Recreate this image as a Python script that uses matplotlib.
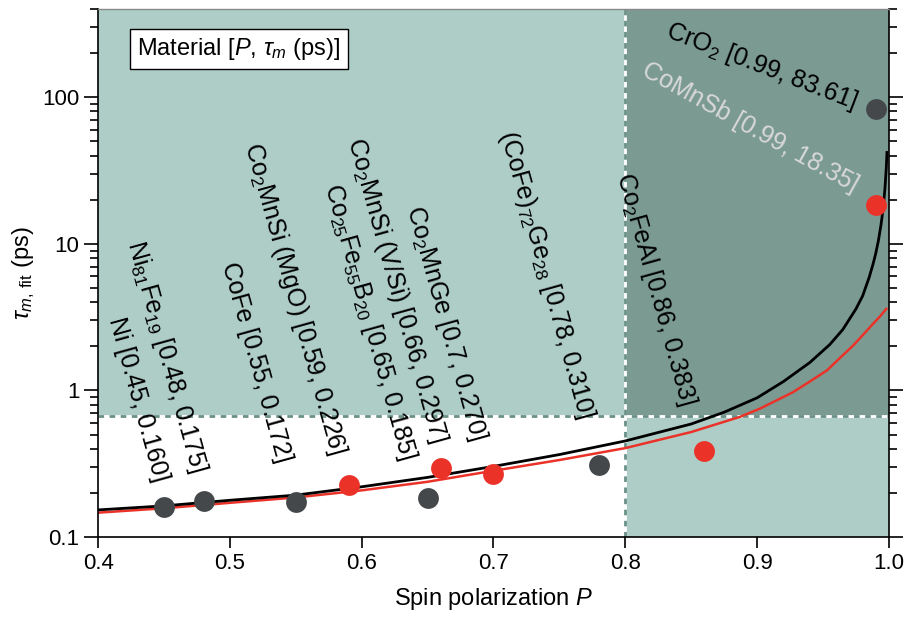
import matplotlib
matplotlib.use("Agg")
import matplotlib.pyplot as plt
import numpy as np

plt.rcParams['font.family'] = ['Liberation Sans', 'DejaVu Sans']
plt.rcParams['mathtext.fontset'] = 'custom'
plt.rcParams['mathtext.rm'] = 'Liberation Sans'
plt.rcParams['mathtext.it'] = 'Liberation Sans:italic'
plt.rcParams['font.size'] = 16

# fitted curves
black_P = [0.40, 0.45, 0.50, 0.55, 0.60, 0.65, 0.70, 0.75, 0.80, 0.85, 0.875, 0.90,
           0.92, 0.94, 0.955, 0.965, 0.975, 0.980, 0.985, 0.988, 0.990, 0.992,
           0.994, 0.995, 0.996, 0.997, 0.998, 0.9985]
black_tau = [0.153, 0.163, 0.178, 0.193, 0.220, 0.255, 0.303, 0.365, 0.452, 0.59, 0.71, 0.89,
             1.15, 1.55, 2.05, 2.6, 3.6, 4.4, 5.9, 7.3, 8.6, 10.5,
             13.5, 15.8, 19.0, 24.0, 33.0, 42.0]
red_P = [0.40, 0.45, 0.50, 0.55, 0.60, 0.65, 0.70, 0.75, 0.80, 0.85, 0.887, 0.902,
         0.927, 0.94, 0.953, 0.963, 0.973, 0.981, 0.988, 0.993, 0.998]
red_tau = [0.1465, 0.157, 0.171, 0.186, 0.208, 0.238, 0.283, 0.335, 0.404, 0.52, 0.66, 0.75,
           0.97, 1.15, 1.37, 1.67, 2.03, 2.43, 2.85, 3.18, 3.6]

# materials
gray_P = [0.45, 0.48, 0.55, 0.65, 0.78, 0.99]
gray_tau = [0.160, 0.175, 0.172, 0.185, 0.310, 83.61]
red_pts_P = [0.59, 0.66, 0.70, 0.86, 0.99]
red_pts_tau = [0.226, 0.297, 0.270, 0.383, 18.35]

labels = ['Ni [0.45, 0.160]',
          'Ni$_{81}$Fe$_{19}$ [0.48, 0.175]',
          'CoFe [0.55, 0.172]',
          'Co$_2$MnSi (MgO) [0.59, 0.226]',
          'Co$_{25}$Fe$_{55}$B$_{20}$ [0.65, 0.185]',
          'Co$_2$MnSi (V/Si) [0.66, 0.297]',
          'Co$_2$MnGe [0.7, 0.270]',
          '(CoFe)$_{72}$Ge$_{28}$ [0.78, 0.310]',
          'Co$_2$FeAl [0.86, 0.383]']
# where each label ends
label_x = [0.4478, 0.4759, 0.5411, 0.582, 0.6352, 0.6582, 0.6886, 0.770, 0.8476]
label_y = [0.240, 0.276, 0.323, 0.366, 0.338, 0.442, 0.453, 0.645, 0.803]

light = '#adcdc6'
dark = '#7b9b92'
red = '#ea3229'
gray = '#45484b'
y_cut = 0.665

fig = plt.figure(figsize=(9.08, 6.19), dpi=100)
ax = fig.add_axes([0.108, 0.1325, 0.871, 0.853])
ax.set_yscale('log')
ax.set_xlim(0.4, 1.0)
ax.set_ylim(0.1, 400)

ax.fill_between([0.4, 1.0], y_cut, 400, color=light, lw=0, zorder=0)
ax.fill_between([0.8, 1.0], 0.1, y_cut, color=light, lw=0, zorder=0)
ax.fill_between([0.8, 1.0], y_cut, 400, color=dark, lw=0, zorder=0)
ax.axhline(y_cut, color='white', lw=2, zorder=1)
ax.axhline(y_cut, color='#6a9087', lw=2, dashes=(2, 2), zorder=1)
ax.axvline(0.8, color='white', lw=2, zorder=1)
ax.axvline(0.8, color='#6a9087', lw=2, dashes=(2, 2), zorder=1)

ax.plot(black_P, black_tau, color='black', lw=2, zorder=3)
ax.plot(red_P, red_tau, color=red, lw=1.8, zorder=2)
ax.plot(gray_P, gray_tau, 'o', color=gray, ms=15, mew=0, zorder=4)
ax.plot(red_pts_P, red_pts_tau, 'o', color=red, ms=15, mew=0, zorder=4)

for s, x, y in zip(labels, label_x, label_y):
    ax.text(x, y, s, rotation=-74.5, rotation_mode='anchor', ha='right', va='center',
            fontsize=18, zorder=5)
ax.text(0.9753, 92.6, 'CrO$_2$ [0.99, 83.61]', rotation=-21, rotation_mode='anchor',
        ha='right', va='center', fontsize=18, zorder=5)
ax.text(0.9757, 24.8, 'CoMnSb [0.99, 18.35]', rotation=-29, rotation_mode='anchor',
        ha='right', va='center', color='#d8d8d8', fontsize=18, zorder=5)

ax.text(0.178, 0.924, r'Material [$P$, $\tau_m$ (ps)]', transform=ax.transAxes,
        ha='center', va='center', fontsize=17, zorder=6,
        bbox=dict(boxstyle='square,pad=0.3', fc='white', ec='black', lw=1))

ax.set_xticks([0.4, 0.5, 0.6, 0.7, 0.8, 0.9, 1.0])
ax.set_xticklabels(['0.4', '0.5', '0.6', '0.7', '0.8', '0.9', '1.0'])
ax.set_yticks([0.1, 1, 10, 100])
ax.set_yticklabels(['0.1', '1', '10', '100'])
ax.tick_params(axis='y', which='both', direction='out', left=True, right=True)
ax.tick_params(axis='y', which='major', length=10, width=1.2)
ax.tick_params(axis='y', which='minor', length=6, width=1.2)
ax.tick_params(axis='x', which='major', direction='out', length=8, width=1.2, top=False)
ax.set_xlabel('Spin polarization $P$', fontsize=17, labelpad=9)
ax.set_ylabel(r'$\tau_{m,\,\mathrm{fit}}$ (ps)', fontsize=17)

for side in ['left', 'bottom', 'right']:
    ax.spines[side].set_linewidth(1.2)
ax.spines['top'].set_color('#888888')
ax.spines['top'].set_linewidth(1)

fig.savefig('out.png', dpi=100)
